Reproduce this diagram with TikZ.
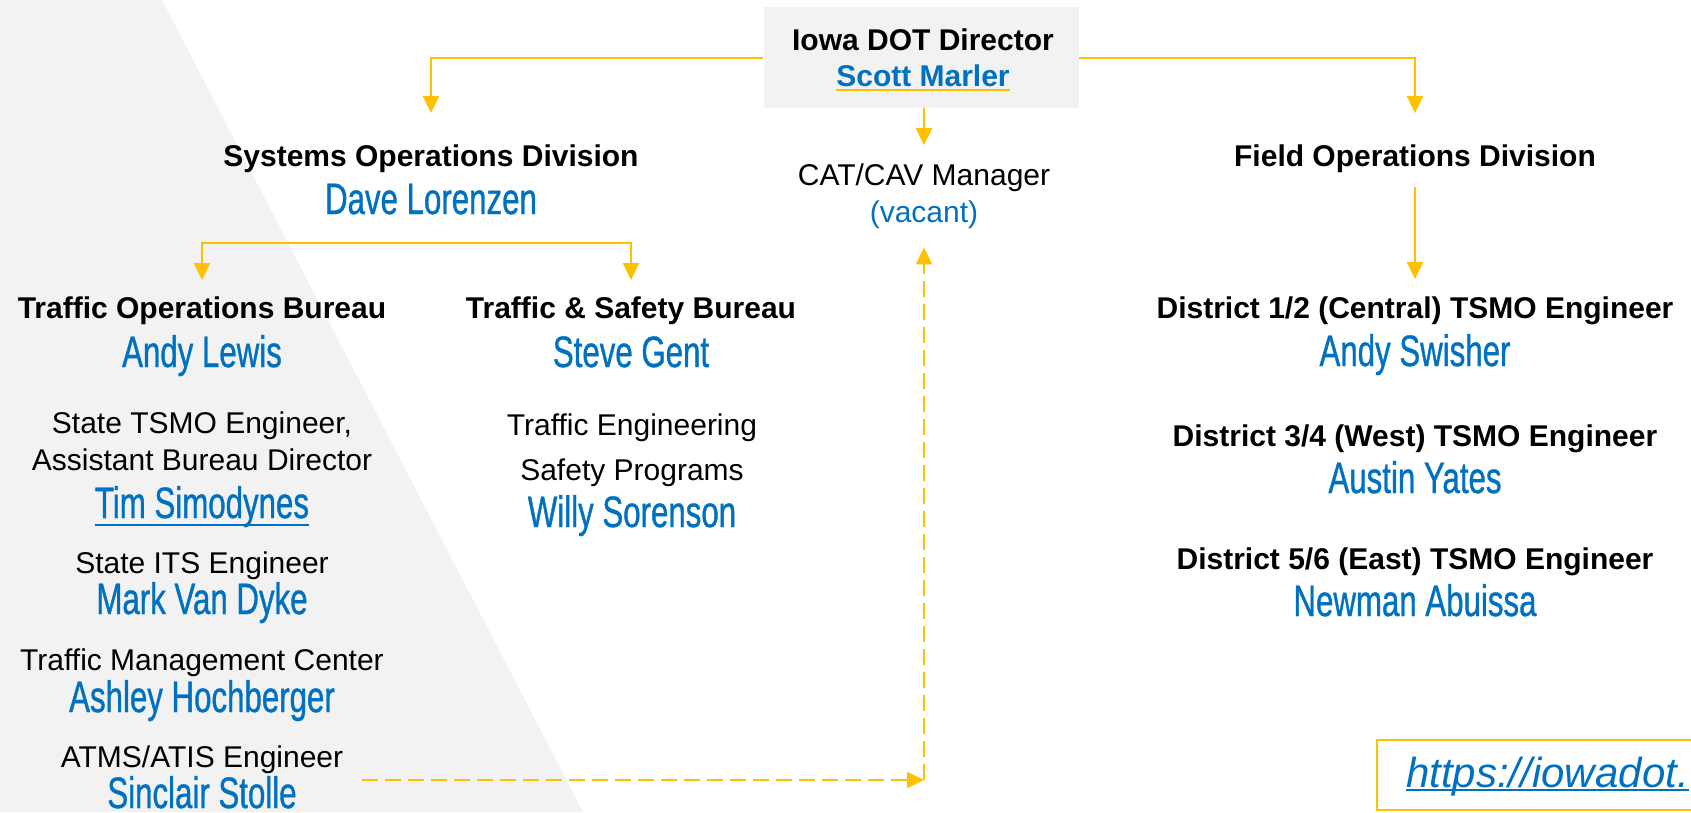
\documentclass[tikz,border=0pt]{standalone}
\usepackage{fontspec}
\setmainfont{Liberation Sans}
\newfontfamily\namefont[FakeStretch=0.71,FakeBold=0.8]{Liberation Sans}
\usetikzlibrary{arrows.meta}
\definecolor{dotblue}{HTML}{0070C0}
\definecolor{dotgold}{HTML}{FFC000}
\definecolor{panelgray}{HTML}{F2F2F2}
\begin{document}
\begin{tikzpicture}[x=1pt,y=-1pt,
        headtxt/.style={inner sep=0pt,anchor=base,font=\fontsize{30}{36}\selectfont\bfseries},
        roletxt/.style={inner sep=0pt,anchor=base,font=\fontsize{30}{36}\selectfont},
        nametxt/.style={inner sep=0pt,anchor=base,text=dotblue,font=\namefont\fontsize{44}{50}\selectfont},
        dirbox/.style={fill=panelgray,minimum width=315pt,minimum height=101pt,inner sep=0pt},
        conn/.style={draw=dotgold,line width=2pt,-{Triangle[width=16pt,length=17pt]}},
        bothconn/.style={draw=dotgold,line width=2pt,{Triangle[width=16pt,length=17pt]}-{Triangle[width=16pt,length=17pt]}},
        dashconn/.style={conn,dash pattern=on 16pt off 7pt}]
    \useasboundingbox (0,0) rectangle (1691,812);
    % grey panel on the left
    \fill[panelgray] (0,0) -- (162,0) -- (583,812) -- (0,812) -- cycle;

    % director
    \node[dirbox] (dir) at (921,57.5) {};
    \node[headtxt] (iowa) at (923,50) {Iowa DOT Director};
    \node[headtxt,text=dotblue] (sm) at (923,86) {Scott Marler};
    \draw[dotgold,line width=2pt] ([yshift=-3.5pt]sm.base west) -- ([yshift=-3.5pt]sm.base east);

    % middle
    \node[roletxt] (cat) at (924,185) {CAT/CAV Manager};
    \node[roletxt,text=dotblue] (vac) at (924,222) {(vacant)};

    % divisions
    \node[headtxt] (sod) at (431,166) {Systems Operations Division};
    \node[nametxt] (dl) at (431,214) {Dave Lorenzen};
    \node[headtxt] (fod) at (1415,166) {Field Operations Division};

    % bureaus
    \node[headtxt] (tob) at (202,318) {Traffic Operations Bureau};
    \node[nametxt] (al) at (202,367) {Andy Lewis};
    \node[headtxt] (tsb) at (631,318) {Traffic \& Safety Bureau};
    \node[nametxt] (sg) at (631,367) {Steve Gent};

    % traffic operations staff
    \node[roletxt] (tsmo) at (202,433) {State TSMO Engineer,};
    \node[roletxt] (abd) at (202,470) {Assistant Bureau Director};
    \node[nametxt] (ts) at (202,518) {Tim Simodynes};
    \draw[dotblue,line width=2pt] ([yshift=-7pt]ts.base west) -- ([yshift=-7pt]ts.base east);
    \node[roletxt] (its) at (202,573) {State ITS Engineer};
    \node[nametxt] (mvd) at (202,614) {Mark Van Dyke};
    \node[roletxt] (tmc) at (202,670) {Traffic Management Center};
    \node[nametxt] (ah) at (202,712) {Ashley Hochberger};
    \node[roletxt] (atms) at (202,767) {ATMS/ATIS Engineer};
    \node[nametxt] (ss) at (202,808) {Sinclair Stolle};

    % traffic and safety staff
    \node[roletxt] (te) at (632,435) {Traffic Engineering};
    \node[roletxt] (sp) at (632,480) {Safety Programs};
    \node[nametxt] (ws) at (632,527) {Willy Sorenson};

    % districts
    \node[headtxt] (d12) at (1415,318) {District 1/2 (Central) TSMO Engineer};
    \node[nametxt] (as) at (1415,366) {Andy Swisher};
    \node[headtxt] (d34) at (1415,446) {District 3/4 (West) TSMO Engineer};
    \node[nametxt] (ay) at (1415,493) {Austin Yates};
    \node[headtxt] (d56) at (1415,569) {District 5/6 (East) TSMO Engineer};
    \node[nametxt] (na) at (1415,616) {Newman Abuissa};

    % link box
    \draw[dotgold,line width=2pt] (1377,740) rectangle (1790,810);
    \node[inner sep=0pt,anchor=base west,text=dotblue,font=\fontsize{42}{48}\selectfont\itshape] (url) at (1406,787) {https://iowadot.};
    \draw[dotblue,line width=2pt] ([yshift=-3pt]url.base west) -- ([yshift=-3pt]url.base east);

    % connectors
    \draw[conn] (dir.west) -| ([yshift=31pt]sod.north);
    \draw[conn] (dir.east) -| ([yshift=31pt]fod.north);
    \draw[conn] (dir.south -| cat.north) -- ([yshift=18pt]cat.north);
    \coordinate (split) at ([yshift=-29pt]dl.base);
    \draw[bothconn] ([yshift=16pt]tob.north) |- (split) -| ([yshift=16pt]tsb.north);
    \draw[conn] ([yshift=-15pt]fod.south) -- ([yshift=17pt]d12.north);
    \coordinate (dashstart) at ([xshift=19pt,yshift=-13pt]atms.base east);
    \coordinate (dashturn) at (cat |- dashstart);
    \draw[dashconn] (dashstart) -- (dashturn);
    \draw[dashconn] (dashturn) -- ([yshift=-19pt]vac.south);
\end{tikzpicture}
\end{document}
